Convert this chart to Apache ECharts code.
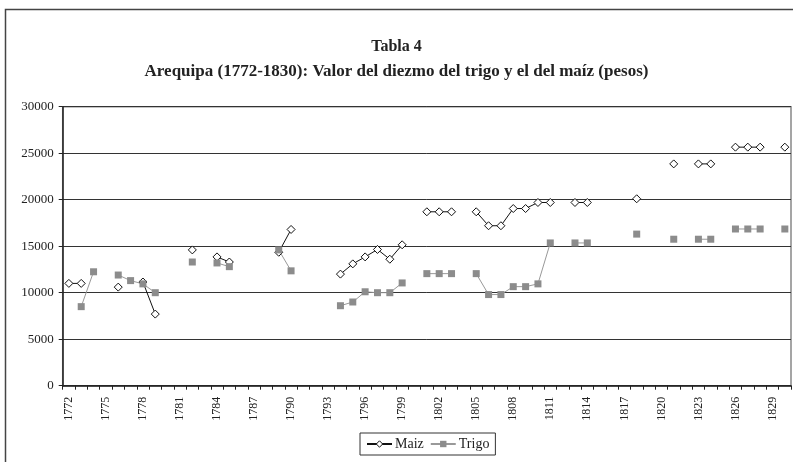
<!DOCTYPE html>
<html>
<head>
<meta charset="utf-8">
<script src="https://cdn.jsdelivr.net/npm/echarts@6/dist/echarts.min.js"></script>
<style>
html,body{margin:0;padding:0;background:#fff;}
#chart{width:793px;height:462px;}
</style>
</head>
<body>
<div id="chart"></div>
<script>
var years = [];
for (var y = 1772; y <= 1830; y++) years.push(String(y));

// values per year (null = no data)
var maizData = {
  1772: 11000, 1773: 11000,
  1776: 10600,
  1778: 11150, 1779: 7700,
  1782: 14600,
  1784: 13850, 1785: 13300,
  1789: 14350, 1790: 16800,
  1794: 12000, 1795: 13100, 1796: 13850, 1797: 14650, 1798: 13600, 1799: 15150,
  1801: 18700, 1802: 18700, 1803: 18700,
  1805: 18700, 1806: 17200, 1807: 17200, 1808: 19050, 1809: 19050, 1810: 19700, 1811: 19700,
  1813: 19700, 1814: 19700,
  1818: 20100,
  1821: 23850,
  1823: 23850, 1824: 23850,
  1826: 25650, 1827: 25650, 1828: 25650,
  1830: 25650
};
var trigoData = {
  1773: 8500, 1774: 12250,
  1776: 11900, 1777: 11300, 1778: 10950, 1779: 10000,
  1782: 13300,
  1784: 13200, 1785: 12800,
  1789: 14600, 1790: 12350,
  1794: 8600, 1795: 9000, 1796: 10100, 1797: 10000, 1798: 10000, 1799: 11050,
  1801: 12050, 1802: 12050, 1803: 12050,
  1805: 12050, 1806: 9800, 1807: 9800, 1808: 10650, 1809: 10650, 1810: 10950, 1811: 15350,
  1813: 15350, 1814: 15350,
  1818: 16300,
  1821: 15750,
  1823: 15750, 1824: 15750,
  1826: 16850, 1827: 16850, 1828: 16850,
  1830: 16850
};
var maiz = years.map(function(y){ return maizData[y] !== undefined ? maizData[y] : null; });
var trigo = years.map(function(y){ return trigoData[y] !== undefined ? trigoData[y] : null; });

var titleText = 'Tabla 4';
var subtitleText = 'Arequipa (1772-1830): Valor del diezmo del trigo y el del maíz (pesos)';

var serif = '"Liberation Serif", "DejaVu Serif", serif';
var chart = echarts.init(document.getElementById('chart'), null, {renderer: 'canvas'});
chart.setOption({
  backgroundColor: '#fff',
  animation: false,
  graphic: [{
    type: 'rect',
    shape: {x: 5.5, y: 9.5, width: 820, height: 480},
    style: {fill: 'none', stroke: '#444', lineWidth: 1.5},
    silent: true
  }],
  title: [{
    text: titleText,
    left: 'center',
    top: 34,
    textStyle: {fontFamily: serif, fontSize: 16, fontWeight: 'bold', color: '#222'}
  }, {
    text: subtitleText,
    left: 'center',
    top: 58,
    textStyle: {fontFamily: serif, fontSize: 17, fontWeight: 'bold', color: '#222'}
  }],
  legend: {
    left: 360,
    top: 433,
    padding: [4, 6, 4, 6],
    itemGap: 6,
    itemWidth: 25,
    itemHeight: 8,
    borderColor: '#333',
    borderWidth: 1,
    textStyle: {fontFamily: serif, fontSize: 14, color: '#222', padding: [0, 0, 0, -2]},
    data: [
      {name: 'Maiz', itemStyle: {color: '#fff', borderColor: '#111', borderWidth: 1}},
      {name: 'Trigo', itemStyle: {color: '#8c8c8c'}}
    ]
  },
  grid: {
    left: 62.7, right: 2, top: 106.7, bottom: 76.3,
    show: true, borderColor: '#888', borderWidth: 1.5
  },
  xAxis: {
    type: 'category',
    data: years,
    boundaryGap: true,
    axisLine: {lineStyle: {color: '#222', width: 1.5}},
    axisTick: {show: true, interval: 0, length: 4, lineStyle: {color: '#222'}},
    axisLabel: {
      interval: 2, rotate: 90, margin: 11,
      fontFamily: serif, fontSize: 12, color: '#222'
    },
    splitLine: {show: false}
  },
  yAxis: {
    type: 'value',
    min: 0, max: 30000, interval: 5000,
    axisLine: {show: true, lineStyle: {color: '#222', width: 1.5}},
    axisTick: {show: true, length: 4, lineStyle: {color: '#222'}},
    axisLabel: {margin: 9, fontFamily: serif, fontSize: 13, color: '#222',
      formatter: function(v){ return String(v); }},
    splitLine: {show: true, lineStyle: {color: '#333', width: 1}}
  },
  series: [{
    name: 'Maiz',
    type: 'line',
    data: maiz,
    connectNulls: false,
    symbol: 'diamond',
    symbolSize: 8,
    showAllSymbol: true,
    lineStyle: {color: '#111', width: 1},
    itemStyle: {color: '#fff', borderColor: '#111', borderWidth: 1}
  }, {
    name: 'Trigo',
    type: 'line',
    data: trigo,
    connectNulls: false,
    symbol: 'rect',
    symbolSize: 7,
    showAllSymbol: true,
    lineStyle: {color: '#999', width: 1},
    itemStyle: {color: '#8c8c8c', borderColor: '#8c8c8c', borderWidth: 0}
  }]
});
</script>
</body>
</html>
